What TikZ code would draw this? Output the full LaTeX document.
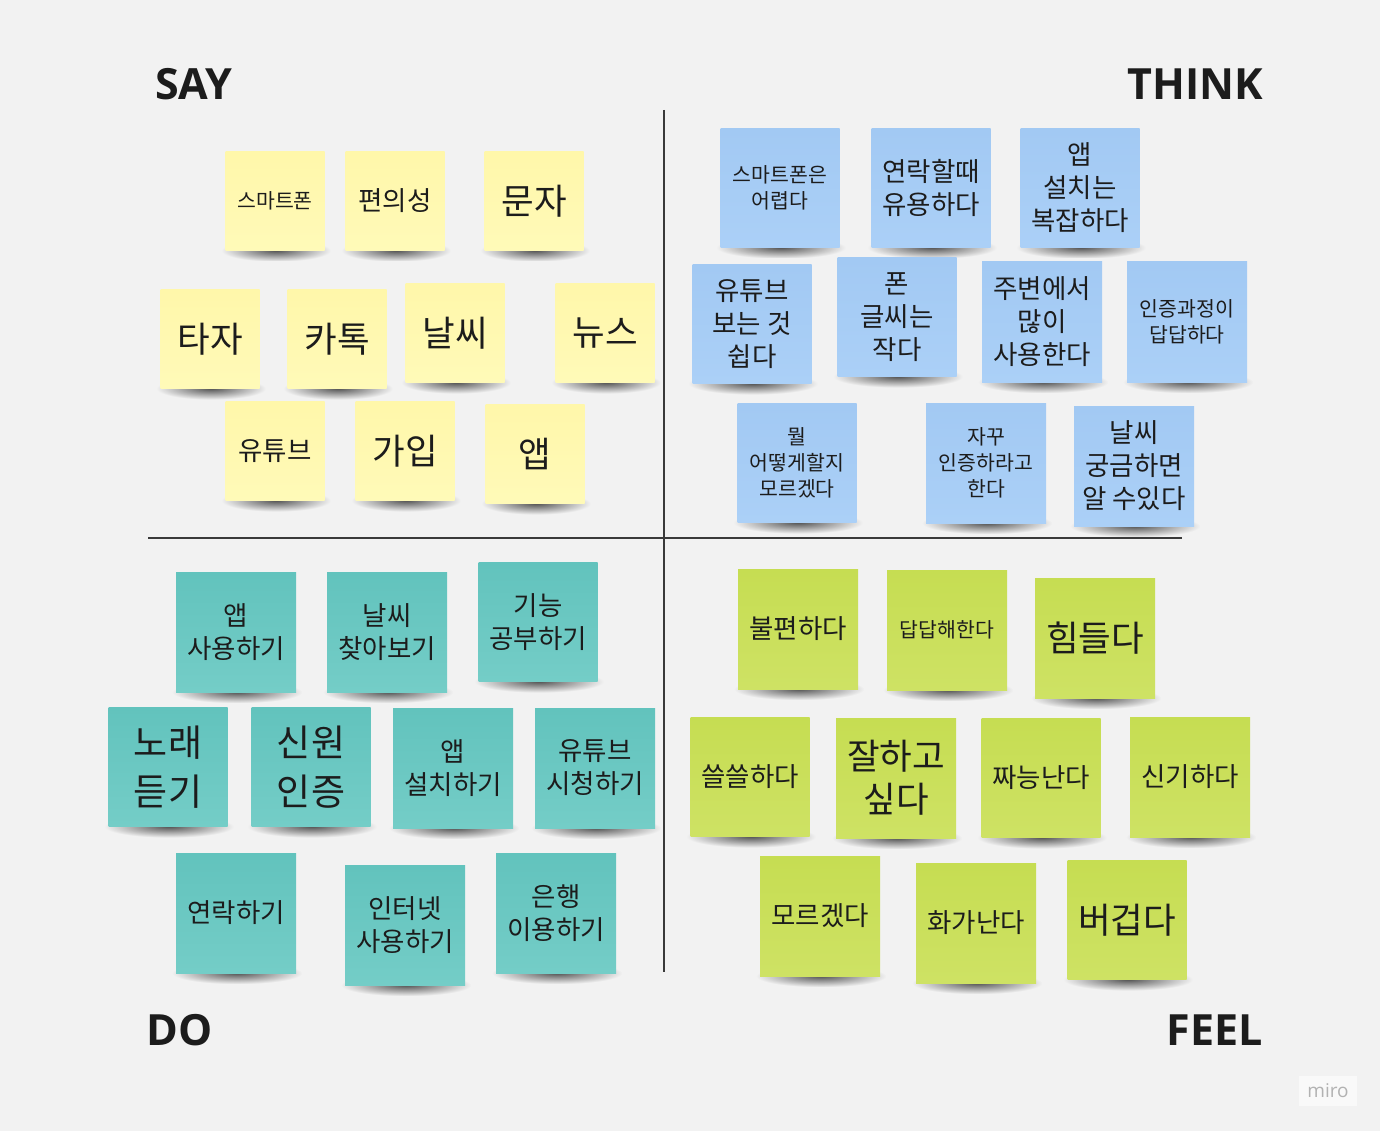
\documentclass[tikz,border=0pt]{standalone}
\usepackage{fontspec}
\usetikzlibrary{fadings}
\newfontfamily\krfont{Noto Sans CJK KR}
\newfontfamily\headfont{Open Sans}

\definecolor{board}{HTML}{F2F2F2}
\definecolor{ink}{HTML}{1C1C1C}
\definecolor{divider}{HTML}{3A3A3A}
\definecolor{sayTop}{HTML}{FFF7AA}
\definecolor{sayBot}{HTML}{FFFAB8}
\definecolor{thinkTop}{HTML}{A2C9F3}
\definecolor{thinkBot}{HTML}{ABD0F7}
\definecolor{doTop}{HTML}{62C3BD}
\definecolor{doBot}{HTML}{74CDC7}
\definecolor{feelTop}{HTML}{C6DD52}
\definecolor{feelBot}{HTML}{CEE264}
\tikzfading[name=shadowfade, inner color=transparent!35, outer color=transparent!100]

% sticky note: name, colour, text size, centre x, centre y, side, text
\newcommand{\sticky}[7]{%
  \fill[black, path fading=shadowfade]
    ({#4-#6/2-4},{#5+#6/2-11}) rectangle ({#4+#6/2+6},{#5+#6/2+11});
  \node[note, #2, #3, minimum width=#6, minimum height=#6] (#1) at (#4,#5) {#7};
}

\begin{document}
\begin{tikzpicture}[x=1pt, y=-1pt,
    note/.style={inner sep=2pt, align=center, text=ink, font=\krfont},
    sayNote/.style={top color=sayTop, bottom color=sayBot},
    thinkNote/.style={top color=thinkTop, bottom color=thinkBot},
    doNote/.style={top color=doTop, bottom color=doBot},
    feelNote/.style={top color=feelTop, bottom color=feelBot},
    txtS/.style={font=\krfont\fontsize{20.5}{26}\selectfont},
    txtM/.style={font=\krfont\fontsize{26.5}{33}\selectfont},
    txtL/.style={font=\krfont\fontsize{35.5}{43}\selectfont},
    txtXL/.style={font=\krfont\fontsize{37}{49}\selectfont},
    heading/.style={inner sep=0pt, text=ink, font=\headfont\bfseries\fontsize{43}{50}\selectfont}]

    % Board
    \fill[board] (0,0) rectangle (1380,1131);
    \useasboundingbox (0,0) rectangle (1380,1131);

    % Quadrant dividers
    \coordinate (vtop) at (664,110);
    \coordinate (vbot) at (664,972);
    \coordinate (hleft) at (148,538);
    \coordinate (hright) at (1182,538);
    \draw[divider, line width=1.8pt] (vtop) -- (vbot);
    \draw[divider, line width=1.8pt] (hleft) -- (hright);

    % Quadrant titles
    \node[heading, anchor=base west] (say) at (155,100) {SAY};
    \node[heading, anchor=base east] (think) at (1263,100) {THINK};
    \node[heading, anchor=base west] (do) at (146,1045) {DO};
    \node[heading, anchor=base east] (feel) at (1263,1045) {FEEL};

    % SAY
    \sticky{say1}{sayNote}{txtS}{275}{201}{99}{스마트폰}
    \sticky{say2}{sayNote}{txtM}{395}{201}{99}{편의성}
    \sticky{say3}{sayNote}{txtL}{534}{201}{99}{문자}
    \sticky{say4}{sayNote}{txtL}{210}{339}{99}{타자}
    \sticky{say5}{sayNote}{txtL}{337}{339}{99}{카톡}
    \sticky{say6}{sayNote}{txtL}{455}{333}{99}{날씨}
    \sticky{say7}{sayNote}{txtL}{605}{333}{99}{뉴스}
    \sticky{say8}{sayNote}{txtM}{275}{451}{99}{유튜브}
    \sticky{say9}{sayNote}{txtL}{405}{451}{99}{가입}
    \sticky{say10}{sayNote}{txtL}{535}{454}{99}{앱}

    % THINK
    \sticky{think1}{thinkNote}{txtS}{780}{188}{119}{스마트폰은\\어렵다}
    \sticky{think2}{thinkNote}{txtM}{931}{188}{119}{연락할때\\유용하다}
    \sticky{think3}{thinkNote}{txtM}{1080}{188}{119}{앱\\설치는\\복잡하다}
    \sticky{think4}{thinkNote}{txtM}{752}{324}{119}{유튜브\\보는 것\\쉽다}
    \sticky{think5}{thinkNote}{txtM}{897}{317}{119}{폰\\글씨는\\작다}
    \sticky{think6}{thinkNote}{txtM}{1042}{322}{120}{주변에서\\많이\\사용한다}
    \sticky{think7}{thinkNote}{txtS}{1187}{322}{120}{인증과정이\\답답하다}
    \sticky{think8}{thinkNote}{txtS}{797}{463}{119}{뭘\\어떻게할지\\모르겠다}
    \sticky{think9}{thinkNote}{txtS}{986}{463}{120}{자꾸\\인증하라고\\한다}
    \sticky{think10}{thinkNote}{txtM}{1134}{466}{120}{날씨\\궁금하면\\알 수있다}

    % DO
    \sticky{do1}{doNote}{txtM}{236}{632}{120}{앱\\사용하기}
    \sticky{do2}{doNote}{txtM}{387}{632}{120}{날씨\\찾아보기}
    \sticky{do3}{doNote}{txtM}{538}{622}{119}{기능\\공부하기}
    \sticky{do4}{doNote}{txtXL}{168}{767}{119}{노래\\듣기}
    \sticky{do5}{doNote}{txtXL}{311}{767}{119}{신원\\인증}
    \sticky{do6}{doNote}{txtM}{453}{768}{120}{앱\\설치하기}
    \sticky{do7}{doNote}{txtM}{595}{768}{120}{유튜브\\시청하기}
    \sticky{do8}{doNote}{txtM}{236}{913}{120}{연락하기}
    \sticky{do9}{doNote}{txtM}{405}{925}{120}{인터넷\\사용하기}
    \sticky{do10}{doNote}{txtM}{556}{913}{120}{은행\\이용하기}

    % FEEL
    \sticky{feel1}{feelNote}{txtM}{798}{629}{120}{불편하다}
    \sticky{feel2}{feelNote}{txtS}{947}{630}{120}{답답해한다}
    \sticky{feel3}{feelNote}{txtL}{1095}{638}{120}{힘들다}
    \sticky{feel4}{feelNote}{txtM}{750}{777}{119}{쓸쓸하다}
    \sticky{feel5}{feelNote}{txtL}{896}{778}{120}{잘하고\\싶다}
    \sticky{feel6}{feelNote}{txtM}{1041}{778}{119}{짜능난다}
    \sticky{feel7}{feelNote}{txtM}{1190}{777}{120}{신기하다}
    \sticky{feel8}{feelNote}{txtM}{820}{916}{120}{모르겠다}
    \sticky{feel9}{feelNote}{txtM}{976}{923}{120}{화가난다}
    \sticky{feel10}{feelNote}{txtL}{1127}{920}{119}{버겁다}

    % Watermark
    \node[fill=white!55!board, minimum width=58, minimum height=30, inner sep=0pt,
          text=black!30, font=\headfont\fontsize{19}{22}\selectfont] (miro) at (1328,1091) {miro};

\end{tikzpicture}
\end{document}
